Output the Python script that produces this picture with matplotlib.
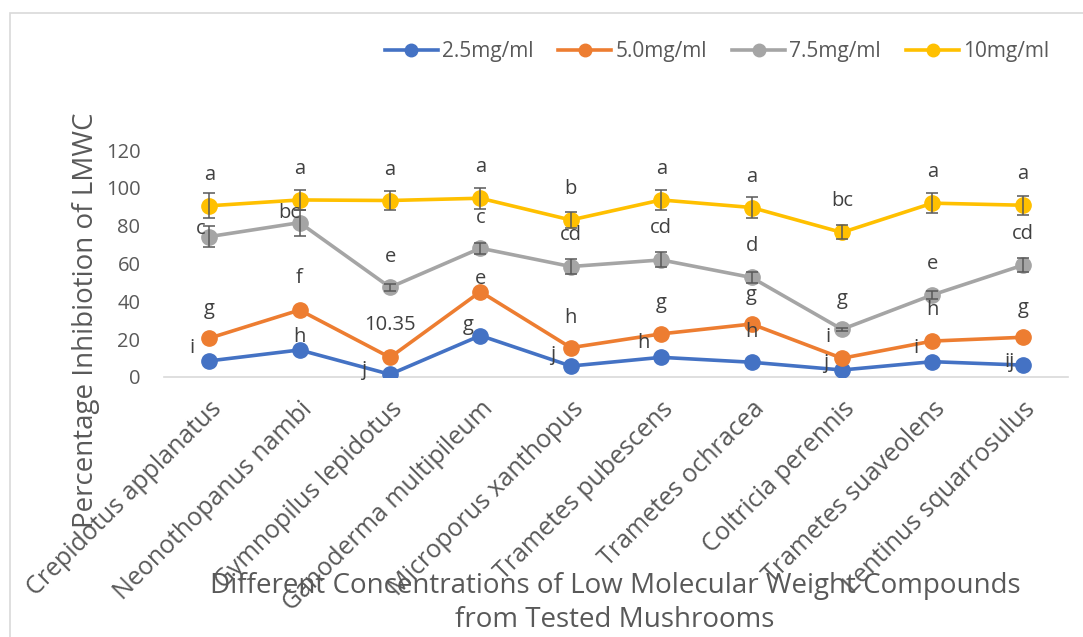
import matplotlib.pyplot as plt
from matplotlib.lines import Line2D
from matplotlib.patches import Rectangle

# mushrooms tested
species = ['Crepidotus applanatus', 'Neonothopanus nambi', 'Gymnopilus lepidotus',
           'Ganoderma multipileum', 'Microporus xanthopus', 'Trametes pubescens',
           'Trametes ochracea', 'Coltricia perennis', 'Trametes suaveolens',
           'Lentinus squarrosulus']

# inhibition (%) per concentration
conc_25 = [8.5, 14.3, 1.4, 21.9, 5.8, 10.4, 7.8, 3.7, 8.1, 6.3]
conc_50 = [20.5, 35.4, 10.35, 45.1, 15.5, 22.8, 28.0, 9.9, 19.0, 21.0]
conc_75 = [74.2, 81.6, 47.4, 68.1, 58.4, 61.9, 52.6, 25.2, 43.4, 59.1]
conc_10 = [90.5, 93.6, 93.3, 94.5, 83.0, 93.6, 89.6, 76.4, 91.9, 90.8]

# standard errors (only the two upper series show visible bars)
err_75 = [5.5, 6.9, 2.0, 3.0, 4.0, 4.0, 3.0, 0.8, 2.0, 3.8]
err_10 = [6.6, 5.3, 5.0, 5.5, 4.0, 5.3, 5.7, 3.7, 5.3, 5.0]

# significance letters
let_25 = ['i', 'h', 'j', 'g', 'j', 'h', 'h', 'j', 'i', 'ij']
let_50 = ['g', 'f', '10.35', 'e', 'h', 'g', 'g', 'i', 'h', 'g']
let_75 = ['c', 'bc', 'e', 'c', 'cd', 'cd', 'd', 'g', 'e', 'cd']
let_10 = ['a', 'a', 'a', 'a', 'b', 'a', 'a', 'bc', 'a', 'a']

series_names = ['2.5mg/ml', '5.0mg/ml', '7.5mg/ml', '10mg/ml']
colors = ['#4472C4', '#ED7D31', '#A5A5A5', '#FFC000']

plt.rcParams['font.family'] = ['Open Sans', 'DejaVu Sans']

W, H = 1083, 637
fig = plt.figure(figsize=(W / 100, H / 100), dpi=100)
ax = fig.add_axes([164 / W, 1 - 377 / H, 904 / W, 227 / H])

# chart border like the Excel chart area
fig.patches.append(Rectangle((10 / W, -0.1), 1.2, 1 - 13 / H + 0.1,
                             transform=fig.transFigure, fill=False,
                             edgecolor='#D9D9D9', lw=1.2))

x = list(range(len(species)))
all_vals = [conc_25, conc_50, conc_75, conc_10]
all_errs = [None, None, err_75, err_10]
for vals, err, col in zip(all_vals, all_errs, colors):
    ax.plot(x, vals, color=col, lw=2.6, marker='o', markersize=11, zorder=3)
    if err is not None:
        ax.errorbar(x, vals, yerr=err, fmt='none', ecolor='#595959',
                    elinewidth=1.1, capsize=4.5, capthick=1.1, zorder=4)

# label offsets in pixels (dx, dy)
off_25 = [(-17, 13), (0, 13), (-26, 4), (-12, 11), (-18, 11), (-18, 14), (0, 30), (-16, 7), (-16, 14), (-13, 3)]
off_50 = [(0, 29), (0, 32), (0, 32), (0, 13), (0, 30), (0, 31), (0, 29), (-14, 21), (0, 31), (0, 29)]
off_75 = [(-9, 8), (-10, 10), (0, 30), (0, 30), (0, 32), (0, 32), (0, 31), (0, 30), (0, 31), (0, 31)]
off_10 = [(0, 31)] * 10

for vals, lets, offs in zip(all_vals, [let_25, let_50, let_75, let_10],
                            [off_25, off_50, off_75, off_10]):
    for xi, v, t, o in zip(x, vals, lets, offs):
        ax.annotate(t, (xi, v), xytext=o, textcoords='offset pixels',
                    ha='center', va='center', fontsize=14.5, color='#404040', zorder=5)

ax.set_xlim(-0.5, 9.5)
ax.set_ylim(0, 120)
ax.set_yticks(range(0, 121, 20))
ax.set_xticks(x)
ax.set_xticklabels(species, rotation=45, ha='right', rotation_mode='anchor', fontsize=18)
ax.tick_params(axis='both', length=0, labelcolor='#595959')
ax.tick_params(axis='y', pad=17, labelsize=14.5)
ax.tick_params(axis='x', pad=14)
for s in ['top', 'right', 'left']:
    ax.spines[s].set_visible(False)
ax.spines['bottom'].set_color('#D9D9D9')
ax.spines['bottom'].set_linewidth(1.2)

handles = [Line2D([], [], color=c, lw=2.6, marker='o', markersize=9) for c in colors]
ax.legend(handles, series_names, loc='center', bbox_to_anchor=(717 / W, 1 - 52 / H),
          bbox_transform=fig.transFigure, ncol=4, frameon=False, fontsize=15,
          labelcolor='#595959', handlelength=2.55, handletextpad=0.2,
          columnspacing=1.2)

fig.text(86 / W, 1 - 320 / H, 'Percentage Inhibiotion of LMWC', rotation=90,
         ha='center', va='center', fontsize=20, color='#595959')
fig.text(615 / W, 1 - 603 / H,
         'Different Concentrations of Low Molecular Weight Compounds\nfrom Tested Mushrooms',
         ha='center', va='center', fontsize=20, color='#595959', linespacing=1.25)

fig.savefig('out.png', dpi=100)
